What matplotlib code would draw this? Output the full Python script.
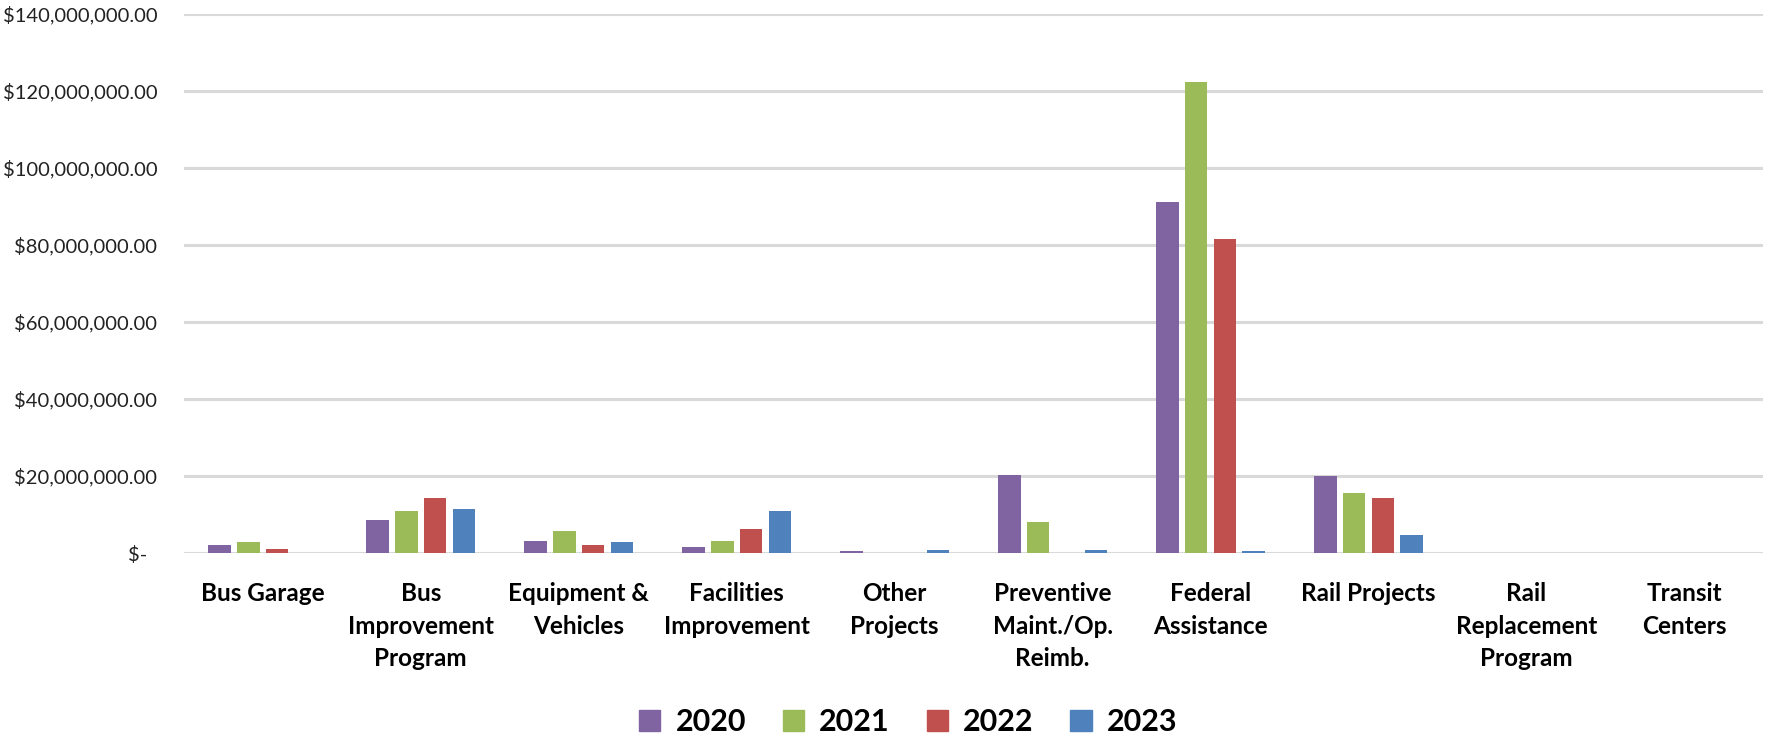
import matplotlib.pyplot as plt
import matplotlib.ticker as mtick
from matplotlib.patches import Patch
import numpy as np

categorias = ["Bus Garage", "Bus\nImprovement\nProgram", "Equipment &\nVehicles",
              "Facilities\nImprovement", "Other\nProjects", "Preventive\nMaint./Op.\nReimb.",
              "Federal\nAssistance", "Rail Projects", "Rail\nReplacement\nProgram",
              "Transit\nCenters"]
anos = ["2020", "2021", "2022", "2023"]

# valores em milhões de dólares
v2020 = [2.2, 8.6, 3.2, 1.6, 0.5, 20.3, 91.0, 19.9, 0, 0]
v2021 = [2.9, 11.0, 5.6, 3.2, 0, 8.1, 122.2, 15.5, 0, 0]
v2022 = [1.1, 14.4, 2.2, 6.3, 0, 0, 81.5, 14.4, 0, 0]
v2023 = [0, 11.5, 2.95, 10.8, 0.87, 0.87, 0.5, 4.6, 0, 0]

cores = ["#8064A2", "#9BBB59", "#C0504D", "#4F81BD"]

plt.rcParams["font.family"] = ["Lato", "DejaVu Sans"]

fig = plt.figure(figsize=(17.67, 7.43), dpi=100)
ax = fig.add_axes([0.104, 0.2557, 0.894, 0.7261])

x = np.arange(len(categorias))
larg = 0.142
passo = 0.182
for i, serie in enumerate([v2020, v2021, v2022, v2023]):
    vals = np.array(serie) * 1e6
    ax.bar(x + passo * (i - 1.5), vals, width=larg, color=cores[i], linewidth=0, zorder=3)

ax.set_xlim(-0.5, len(categorias) - 0.5)
ax.set_ylim(0, 140e6)
ax.set_yticks(np.arange(0, 140e6 + 1, 20e6))


def fmt(v, pos):
    if v == 0:
        return "$-  "
    return "${:,.2f}".format(v)


ax.yaxis.set_major_formatter(mtick.FuncFormatter(fmt))
ax.grid(axis="y", color="#d9d9d9", linewidth=2.2, zorder=0)
for s in ax.spines.values():
    s.set_visible(False)
ax.tick_params(axis="y", length=0, pad=19, labelsize=14.5, labelcolor="#222222")
ax.tick_params(axis="x", length=0, pad=21)
ax.set_xticks(x)
ax.set_xticklabels(categorias, fontsize=17.5, fontweight="bold", linespacing=1.5, va="top")

handles = [Patch(color=c) for c in cores]
fig.legend(handles, anos, loc="lower center", ncol=4, bbox_to_anchor=(0.514, -0.028),
           frameon=False, handlelength=0.7, handleheight=0.7, handletextpad=0.5,
           columnspacing=1.2, prop={"weight": "bold", "size": 22})

fig.savefig("out.png", dpi=100)
